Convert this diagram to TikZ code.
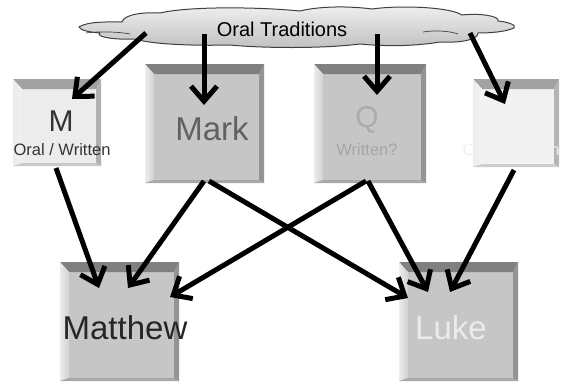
\documentclass[tikz,border=0pt]{standalone}
\usepackage{fontspec}
\setmainfont{Liberation Sans}
\usetikzlibrary{arrows.meta,calc}

\definecolor{facedark}{HTML}{C6C6C6}
\definecolor{facelight}{HTML}{ECECEC}
\definecolor{facepale}{HTML}{F1F1F1}
\definecolor{topdark}{HTML}{808080}
\definecolor{toplight}{HTML}{A2A2A2}

\tikzset{
    bevelbox/.style 2 args={rectangle, inner sep=0pt, fill=#1, path picture={
        % top band
        \fill[#2] (path picture bounding box.north west) -- (path picture bounding box.north east)
            -- ([shift={(-5pt,-10pt)}]path picture bounding box.north east)
            -- ([shift={(9pt,-10pt)}]path picture bounding box.north west) -- cycle;
        % left band
        \shade[left color=white!85!gray, right color=#1!80!white]
            (path picture bounding box.north west) -- ([shift={(9pt,-10pt)}]path picture bounding box.north west)
            -- ([shift={(9pt,3pt)}]path picture bounding box.south west)
            -- (path picture bounding box.south west) -- cycle;
        % right band
        \fill[#1!75!black] (path picture bounding box.north east) -- ([shift={(-5pt,-10pt)}]path picture bounding box.north east)
            -- ([shift={(-5pt,3pt)}]path picture bounding box.south east)
            -- (path picture bounding box.south east) -- cycle;
        % bottom band
        \fill[#1!85!black] (path picture bounding box.south west) -- ([shift={(9pt,3pt)}]path picture bounding box.south west)
            -- ([shift={(-5pt,3pt)}]path picture bounding box.south east)
            -- (path picture bounding box.south east) -- cycle;
    }},
    bigname/.style={font=\fontsize{33}{33}\selectfont, inner sep=0pt},
    smallname/.style={font=\fontsize{16.5}{16.5}\selectfont, inner sep=0pt},
    link/.style={line width=5pt, -{Straight Barb[length=15pt,width=26pt,line width=5pt]}},
    puff/.style={draw=black!75, line width=1pt},
}

\begin{document}
\begin{tikzpicture}[x=1pt,y=-1pt]
    \useasboundingbox (0,0) rectangle (563,381);

    % Oral tradition cloud
    \path[puff, top color=gray!12, bottom color=gray!50]
        (79,27) .. controls (88,21) and (110,22) .. (122,22)
        .. controls (124,14) and (145,12) .. (160,13)
        .. controls (190,6) and (260,7) .. (300,11)
        .. controls (320,6) and (350,6) .. (372,9)
        .. controls (400,5) and (450,7) .. (462,15)
        .. controls (480,13) and (500,16) .. (498,21)
        .. controls (508,22) and (517,25) .. (514,28)
        .. controls (505,32) and (490,33) .. (478,33)
        .. controls (478,40) and (460,43) .. (440,42)
        .. controls (410,47) and (380,46) .. (360,44)
        .. controls (320,49) and (260,48) .. (230,45)
        .. controls (190,46) and (150,44) .. (135,39)
        .. controls (115,40) and (95,37) .. (100,33)
        .. controls (88,32) and (80,30) .. (79,27) -- cycle;
    \draw[puff, line width=0.7pt] (86,33) .. controls (100,31) and (120,32) .. (130,34);
    \draw[puff, line width=0.7pt] (423,32) .. controls (435,30) and (450,31) .. (458,34);
    \coordinate (cloud) at (297,28);
    \node[font=\fontsize{20}{20}\selectfont, inner sep=0pt] (oral) at (282,29) {Oral Traditions};

    % Sources
    \node[bevelbox={facelight}{toplight}, minimum width=88pt, minimum height=87pt] (m) at (57,122.5) {};
    \node[bevelbox={facedark}{topdark}, minimum width=119pt, minimum height=119pt] (mark) at (204.5,123.5) {};
    \node[bevelbox={facedark}{topdark}, minimum width=112pt, minimum height=119pt] (q) at (370,123.5) {};
    \node[bevelbox={facepale}{toplight}, minimum width=86pt, minimum height=88pt] (l) at (516,123) {};

    % Gospels
    \node[bevelbox={facedark}{topdark}, minimum width=119pt, minimum height=119pt] (matthew) at (119.5,321.5) {};
    \node[bevelbox={facedark}{topdark}, minimum width=119pt, minimum height=119pt] (luke) at (458.5,321.5) {};

    % Labels
    \node[font=\fontsize{30}{30}\selectfont, inner sep=0pt, text=black!80] (mtxt) at (61,121) {M};
    \node[smallname, text=black!80] (mnote) at (62,150) {Oral / Written};
    \node[bigname, text=black!62] (marktxt) at (212,129) {Mark};
    \node[font=\fontsize{30}{30}\selectfont, inner sep=0pt, text=black!33] (qtxt) at (367,120) {Q};
    \node[smallname, text=black!35] (qnote) at (367,150) {Written?};
    \node[font=\fontsize{30}{30}\selectfont, inner sep=0pt, text=black!6] (ltxt) at (514,121) {L};
    \node[smallname, text=black!6] (lnote) at (511,150) {Oral / Written};
    \node[bigname, text=black!85] (matthewtxt) at (125,328) {Matthew};
    \node[bigname, text=black!8] (luketxt) at (451,328) {Luke};

    % Influences
    \draw[link] ($(cloud)+(-151,5)$) -- ($(m.center)+(15,-23.5)$);
    \draw[link] ($(cloud)+(-93,6)$) -- ($(mark.center)+(-0.5,-18.5)$);
    \draw[link] ($(cloud)+(80,6)$) -- ($(q.center)+(7,-28.5)$);
    \draw[link] ($(cloud)+(173,5)$) -- ($(l.center)+(-11,-19)$);

    \draw[link] ($(m.center)+(-1,45.5)$) -- ($(matthew.center)+(-20.5,-33.5)$);
    \draw[link] ($(mark.center)+(-0.5,57.5)$) -- ($(matthew.center)+(8.5,-33.5)$);
    \draw[link] ($(mark.center)+(4.5,57.5)$) -- ($(luke.center)+(-50.5,-23.5)$);
    \draw[link] ($(q.center)+(-4,57.5)$) -- ($(matthew.center)+(50.5,-24.5)$);
    \draw[link] ($(q.center)+(-2,57.5)$) -- ($(luke.center)+(-30.5,-29.5)$);
    \draw[link] ($(l.center)+(-2,47)$) -- ($(luke.center)+(-8.5,-29.5)$);

\end{tikzpicture}
\end{document}
